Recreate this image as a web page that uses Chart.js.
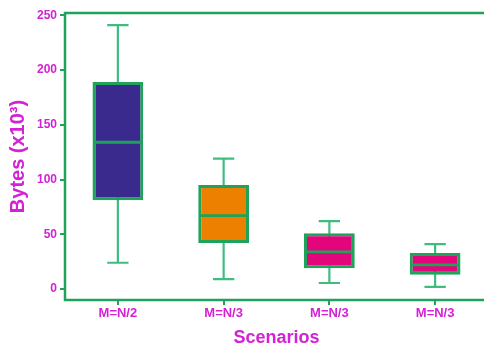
<!DOCTYPE html>
<html>
<head>
<meta charset="utf-8">
<script src="https://cdn.jsdelivr.net/npm/chart.js@4/dist/chart.umd.min.js"></script>
<style>
  html, body { margin: 0; padding: 0; background: #ffffff; overflow: hidden; }
  #wrap { width: 484px; height: 347px; overflow: hidden; }
  #box { width: 488px; height: 347px; }
</style>
</head>
<body>
<div id="wrap"><div id="box"><canvas id="c"></canvas></div></div>
<script>
// Box-plot summaries per scenario (values in thousands of bytes)
const categories = ['M=N/2', 'M=N/3', 'M=N/3', 'M=N/3'];
const lowWhisker = [24, 9, 5.5, 2];
const q1 = [81, 42, 19, 13];
const medians = [134, 67, 34, 22];
const q3 = [189, 95, 51, 33];
const highWhisker = [241, 119, 62, 41];
const yTicks = [0, 50, 100, 150, 200, 250];

const boxColors = ['#3a2a8e', '#ee8000', '#e2057b', '#e2057b'];
const GREEN = '#1fa35a';
const WHISKER = '#3fbd7f';
const MAGENTA = '#d222d4';

// whiskers behind the boxes, medians on top, frame around the plot
const boxPlotExtras = {
  id: 'boxPlotExtras',
  beforeDatasetsDraw(chart) {
    const ctx = chart.ctx;
    const y = chart.scales.y;
    const meta = chart.getDatasetMeta(0);
    ctx.save();
    ctx.strokeStyle = WHISKER;
    ctx.lineWidth = 2.2;
    meta.data.forEach((bar, i) => {
      const x = bar.x;
      const cap = bar.width * 0.42;
      const yLo = y.getPixelForValue(lowWhisker[i]);
      const yHi = y.getPixelForValue(highWhisker[i]);
      ctx.beginPath();
      ctx.moveTo(x, yLo); ctx.lineTo(x, yHi);
      ctx.moveTo(x - cap / 2, yLo); ctx.lineTo(x + cap / 2, yLo);
      ctx.moveTo(x - cap / 2, yHi); ctx.lineTo(x + cap / 2, yHi);
      ctx.stroke();
    });
    ctx.restore();
  },
  afterDatasetsDraw(chart) {
    const ctx = chart.ctx;
    const y = chart.scales.y;
    const meta = chart.getDatasetMeta(0);
    ctx.save();
    ctx.strokeStyle = GREEN;
    ctx.lineWidth = 2.8;
    meta.data.forEach((bar, i) => {
      const ym = y.getPixelForValue(medians[i]);
      const half = bar.width / 2 - 1.5;
      ctx.beginPath();
      ctx.moveTo(bar.x - half, ym); ctx.lineTo(bar.x + half, ym);
      ctx.stroke();
    });
    const a = chart.chartArea;
    ctx.strokeStyle = GREEN;
    ctx.lineWidth = 2.5;
    ctx.beginPath();
    ctx.moveTo(a.right, a.top); ctx.lineTo(a.left, a.top);
    ctx.lineTo(a.left, a.bottom); ctx.lineTo(a.right, a.bottom);
    ctx.stroke();
    ctx.restore();
  }
};

const font = { family: "'Liberation Sans', Arial, sans-serif", weight: 'bold' };

new Chart(document.getElementById('c'), {
  type: 'bar',
  data: {
    labels: categories,
    datasets: [{
      data: q1.map((v, i) => [v, q3[i]]),
      backgroundColor: boxColors,
      borderColor: GREEN,
      borderWidth: 3,
      borderSkipped: false,
      categoryPercentage: 1,
      barPercentage: 0.48
    }]
  },
  options: {
    responsive: true,
    maintainAspectRatio: false,
    animation: false,
    layout: { padding: { top: 13, right: 0, left: 0, bottom: 0 } },
    plugins: { legend: { display: false }, tooltip: { enabled: false } },
    scales: {
      x: {
        offset: true,
        grid: { display: true, drawOnChartArea: false, offset: false, drawTicks: true,
                tickLength: 5, color: GREEN, lineWidth: 2 },
        border: { display: false },
        ticks: { color: MAGENTA, font: { ...font, size: 13 }, padding: 1, maxRotation: 0 },
        title: { display: true, text: 'Scenarios', color: MAGENTA,
                 font: { ...font, size: 18, lineHeight: 1 }, padding: { top: 0, bottom: 0 } },
        afterFit(scale) { scale.height = 47; }
      },
      y: {
        min: -10,
        max: 252,
        afterBuildTicks(scale) { scale.ticks = yTicks.map(v => ({ value: v })); },
        grid: { display: true, drawOnChartArea: false, drawTicks: true,
                tickLength: 5, color: GREEN, lineWidth: 2 },
        border: { display: false },
        ticks: { color: MAGENTA, font: { ...font, size: 12 }, padding: 3 },
        title: { display: true, text: 'Bytes (x10³)', color: MAGENTA,
                 font: { ...font, size: 20, lineHeight: 1 }, padding: { top: 8, bottom: 0 } },
        afterFit(scale) { scale.width = 65; }
      }
    }
  },
  plugins: [boxPlotExtras]
});
</script>
</body>
</html>
